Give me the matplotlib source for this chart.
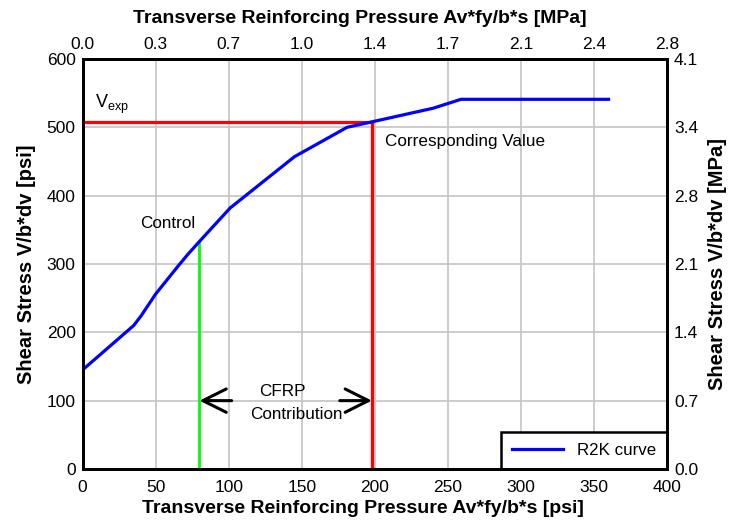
import matplotlib
matplotlib.use("Agg")
import matplotlib.pyplot as plt
from matplotlib.ticker import FuncFormatter

PSI_TO_MPA = 0.006895

# R2K response curve: transverse pressure [psi] vs shear stress [psi]
pressure = [0, 35, 40, 50, 65, 72, 80, 101, 145, 181, 198, 240, 259, 360]
shear = [145, 210, 224, 256, 296, 314, 333, 382, 457, 500, 508, 528, 541, 541]

control_x, control_y = 80, 333
v_exp = 508
corr_x = 198
arrow_y = 100

plt.rcParams['font.family'] = ['Liberation Sans', 'DejaVu Sans']
plt.rcParams['mathtext.fontset'] = 'custom'
plt.rcParams['mathtext.rm'] = 'Liberation Sans'

fig = plt.figure(figsize=(7.29, 5.23), dpi=100)
ax = fig.add_axes([0.1133, 0.1033, 0.8017, 0.7839])

ax.plot(pressure, shear, color='#0000ff', lw=2.3, label='R2K curve', zorder=4)
ax.plot([0, corr_x], [v_exp, v_exp], color='#ff0000', lw=2.3, zorder=3)
ax.plot([corr_x, corr_x], [0, v_exp], color='#ff0000', lw=2.3, zorder=3)
ax.plot([control_x, control_x], [0, control_y], color='#00ff00', lw=2.0, zorder=3)

for tail, head in ((102, control_x), (176, corr_x)):
    ax.annotate('', xy=(head, arrow_y), xytext=(tail, arrow_y),
                arrowprops=dict(arrowstyle='->', lw=2.2, color='black',
                                mutation_scale=42, shrinkA=0, shrinkB=0))

ax.text(8.5, 528, r'V$_{\mathrm{exp}}$', fontsize=13)
ax.text(207, 479, 'Corresponding Value', fontsize=12.3, va='center')
ax.text(58.5, 359, 'Control', fontsize=12.3, ha='center', va='center')
ax.text(137, 113, 'CFRP', fontsize=12.3, ha='center', va='center')
ax.text(146, 79, 'Contribution', fontsize=12.3, ha='center', va='center')

ax.set_xlim(0, 400)
ax.set_ylim(0, 600)
ax.set_xticks(range(0, 401, 50))
ax.set_yticks(range(0, 601, 100))
ax.grid(True, color='#c4c4c4', lw=1.2)
ax.set_axisbelow(True)
ax.tick_params(axis='y', length=0, labelsize=12.5, pad=5)
ax.tick_params(axis='x', length=0, labelsize=12.5, pad=8)
for s in ax.spines.values():
    s.set_linewidth(2)

ax.set_xlabel('Transverse Reinforcing Pressure Av*fy/b*s [psi]', fontsize=14,
              fontweight='bold')
ax.xaxis.set_label_coords(0.48, -0.075)
ax.set_ylabel('Shear Stress V/b*dv [psi]', fontsize=14.5, fontweight='bold')
ax.yaxis.set_label_coords(-0.08, 0.5)

# metric axes mirror the psi limits
mpa = FuncFormatter(lambda v, p: f'{v * PSI_TO_MPA:.1f}')
top = ax.twiny()
top.set_xlim(ax.get_xlim())
top.set_xticks(ax.get_xticks())
top.xaxis.set_major_formatter(mpa)
top.tick_params(length=0, labelsize=12.5, pad=5)
top.set_xlabel('Transverse Reinforcing Pressure Av*fy/b*s [MPa]', fontsize=14,
               fontweight='bold')
top.xaxis.set_label_coords(0.475, 1.087)

right = ax.twinx()
right.set_ylim(ax.get_ylim())
right.set_yticks(ax.get_yticks())
right.yaxis.set_major_formatter(mpa)
right.tick_params(length=0, labelsize=12.5, pad=5)
right.set_ylabel('Shear Stress V/b*dv [MPa]', fontsize=14.5, fontweight='bold')
right.yaxis.set_label_coords(1.07, 0.5)
for a in (top, right):
    for s in a.spines.values():
        s.set_linewidth(2)

leg = ax.legend(loc='lower right', fontsize=12.2, fancybox=False, framealpha=1,
                edgecolor='black', borderaxespad=0, handlelength=3.0,
                borderpad=0.65)
leg.get_frame().set_linewidth(1.8)

fig.savefig('out.png', dpi=100)
